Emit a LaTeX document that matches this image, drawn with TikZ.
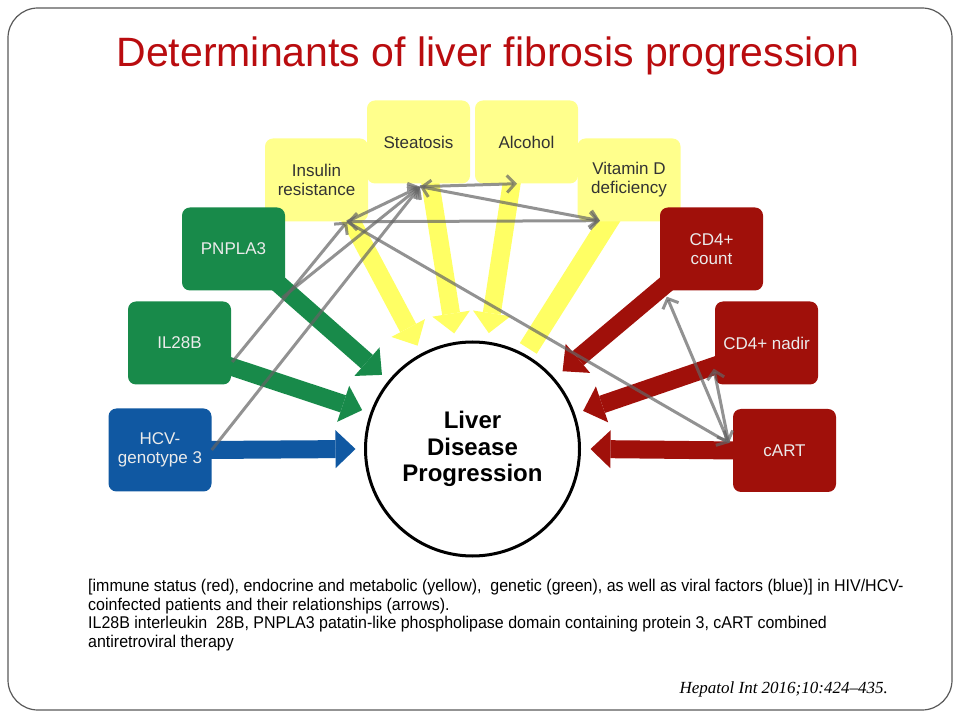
\documentclass[tikz,border=0pt]{standalone}
\usepackage{fontspec}
\setmainfont{Liberation Sans}
\newfontfamily\notefont[FakeStretch=0.94]{Liberation Sans}
\newfontfamily\citefont{Liberation Serif}
\usetikzlibrary{arrows.meta,calc,backgrounds}

\definecolor{titlered}{RGB}{185,12,15}
\definecolor{immunered}{RGB}{160,16,10}
\definecolor{metabyellow}{RGB}{255,255,140}
\definecolor{metabarrow}{RGB}{255,255,100}
\definecolor{genegreen}{RGB}{24,138,74}
\definecolor{viralblue}{RGB}{16,88,162}
\definecolor{linkgray}{RGB}{100,100,100}

\tikzset{
  factor/.style={rounded corners=8pt,minimum width=103pt,minimum height=83pt,inner sep=2pt,
    align=center,font=\fontsize{17}{19}\selectfont},
  metabox/.style={factor,fill=metabyellow,text=black!80},
  genebox/.style={factor,fill=genegreen,text=white!92!black},
  viralbox/.style={factor,fill=viralblue,text=white!92!black},
  immunebox/.style={factor,fill=immunered,text=white!92!black},
  push/.style={line width=18pt,-{Triangle[length=20pt,width=38pt,line width=0pt]}},
  band/.style={line width=20pt},
  relation/.style={draw=linkgray,draw opacity=0.7,line width=3pt,-{Straight Barb[length=8pt,width=17pt]}},
  relboth/.style={relation,{Straight Barb[length=8pt,width=17pt]}-{Straight Barb[length=8pt,width=17pt]}},
}

\begin{document}
\begin{tikzpicture}[x=1pt,y=1pt]
  \useasboundingbox (0,0) rectangle (960,720);
  \draw[black!65,line width=1.2pt,rounded corners=30pt] (8,10) rectangle (952,712);
  \node[text=titlered,font=\fontsize{41}{46}\selectfont] (title) at (488,664) {Determinants of liver fibrosis progression};

  % endocrine and metabolic
  \node[metabox] (ins) at (316.5,540) {Insulin\\resistance};
  \node[metabox] (vit) at (629,540) {Vitamin D\\deficiency};
  \node[metabox] (ste) at (418.5,578) {Steatosis};
  \node[metabox] (alc) at (526.5,578) {Alcohol};
  % genetic and viral
  \node[genebox] (pnp) at (233.5,471) {PNPLA3};
  \node[genebox] (il) at (179.5,377) {IL28B};
  \node[viralbox] (hcv) at (160,270) {HCV-\\genotype 3};
  % immune status
  \node[immunebox] (cnt) at (711.5,471) {CD4+\\count};
  \node[immunebox] (nad) at (766.5,377) {CD4+ nadir};
  \node[immunebox] (cart) at (784.5,269.5) {cART};

  \node[circle,draw,line width=3pt,fill=white,minimum size=214pt,inner sep=0pt,align=center,
    font=\bfseries\fontsize{24}{26.5}\selectfont] (liver) at (472.5,271) {Liver\\Disease\\Progression};

  \begin{scope}[on background layer]
    \draw[push,metabarrow] ($(ins.south)+(32,6)$) -- ($(liver.center)+(118:117pt)$);
    \draw[push,metabarrow] ($(ste.south)+(11,6)$) -- ($(liver.center)+(99:117pt)$);
    \draw[push,metabarrow] ($(alc.south)+(-14,6)$) -- ($(liver.center)+(82:117pt)$);
    \draw[band,metabarrow] ($(vit.south)+(-17,6)$) -- ($(liver.center)+(61:115pt)$);
    \draw[push,genegreen] ($(pnp.south east)+(-8,8)$) -- ($(liver.center)+(140.7:117pt)$);
    \draw[push,genegreen] ($(il.east)+(-8,-21)$) -- ($(liver.center)+(160.6:117pt)$);
    \draw[push,viralblue] ($(hcv.east)+(-5,0)$) -- ($(liver.center)+(180:117pt)$);
    \draw[push,immunered] ($(cnt.south west)+(8,8)$) -- ($(liver.center)+(40.8:119pt)$);
    \draw[push,immunered] ($(nad.west)+(8,-20)$) -- ($(liver.center)+(19:117pt)$);
    \draw[push,immunered] ($(cart.west)+(5,0)$) -- ($(liver.center)+(0:118pt)$);
  \end{scope}

  % relationships
  \coordinate (ste-hub) at ($(ste.south)+(1.5,-3)$);
  \coordinate (ins-hub) at ($(ins.south)+(30.5,0)$);
  \coordinate (alc-hub) at ($(alc.south)+(-9.5,0)$);
  \coordinate (vit-hub) at ($(vit.south)+(-29,1)$);
  \coordinate (cnt-hub) at ($(cnt.south west)+(7,-6)$);
  \coordinate (nad-hub) at ($(nad.south west)+(-1,16)$);
  \coordinate (cart-hub) at ($(cart.west)+(-4,7.5)$);
  \draw[relation] (hcv.east) -- (ste-hub);
  \draw[relation] ($(pnp.south east)+(-3,-7)$) -- (ste-hub);
  \draw[relation] ($(il.east)+(1,-19)$) -- (ins-hub);
  \draw[relation] (ins-hub) -- (ste-hub);
  \draw[relation] (ste-hub) -- (alc-hub);
  \draw[relboth] (ste-hub) -- (vit-hub);
  \draw[relboth] (ins-hub) -- (vit-hub);
  \draw[relation] (ins-hub) -- (cart-hub);
  \draw[relboth] (cnt-hub) -- (cart-hub);
  \draw[relation] (cart-hub) -- (nad-hub);

  \node[anchor=north west,align=left,inner sep=0pt,font=\notefont\fontsize{17}{18.7}\selectfont] (note) at (88,141)
    {[immune status (red), endocrine and metabolic (yellow),\ \ genetic (green), as well as viral factors (blue)] in HIV/HCV-\\
     coinfected patients and their relationships (arrows).\\
     IL28B interleukin\ \ 28B, PNPLA3 patatin-like phospholipase domain containing protein 3, cART combined\\
     antiretroviral therapy};
  \node[anchor=base east,inner sep=0pt,font=\citefont\itshape\fontsize{17}{20}\selectfont] (cite) at (888,27)
    {Hepatol Int 2016;10:424–435.};
\end{tikzpicture}
\end{document}
